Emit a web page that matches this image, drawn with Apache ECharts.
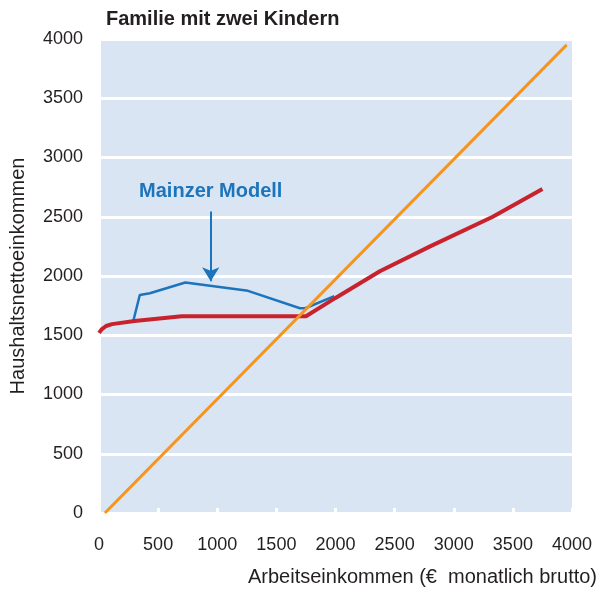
<!DOCTYPE html>
<html>
<head>
<meta charset="utf-8">
<script src="https://cdn.jsdelivr.net/npm/echarts@6/dist/echarts.min.js"></script>
<style>
  html, body { margin: 0; padding: 0; background: #fff; }
  #chart { width: 597px; height: 589px; }
</style>
</head>
<body>
<div id="chart"></div>
<script>
// Nettoeinkommen einer Familie mit zwei Kindern
const xTicks = [0, 500, 1000, 1500, 2000, 2500, 3000, 3500, 4000];
const yTicks = [0, 500, 1000, 1500, 2000, 2500, 3000, 3500, 4000];

// [Arbeitseinkommen, Haushaltsnettoeinkommen]
const heute = [
  [0, 1520], [25, 1552], [60, 1578], [110, 1594], [300, 1620], [700, 1660],
  [1750, 1660], [2000, 1815], [2375, 2040], [2800, 2250], [3330, 2500], [3750, 2735]
];
const mainzerModell = [
  [290, 1620], [345, 1840], [430, 1855], [730, 1945], [1260, 1875],
  [1700, 1728], [1745, 1728], [1990, 1830]
];
const diagonale = [[50, 0], [3955, 3950]];
const pfeil = [[945, 2545], [945, 1955]];

const font = 'Liberation Sans, Arial, sans-serif';
const chart = echarts.init(document.getElementById('chart'));

chart.setOption({
  animation: false,
  title: {
    text: 'Familie mit zwei Kindern',
    left: 101,
    top: 4,
    textStyle: { fontFamily: font, fontSize: 20, fontWeight: 'bold', color: '#231f20' }
  },
  grid: {
    left: 99, right: 25, top: 39, bottom: 76,
    outerBoundsMode: 'none',
    containLabel: false,
    show: true, backgroundColor: '#dae5f3', borderWidth: 0
  },
  xAxis: {
    type: 'value',
    min: xTicks[0], max: xTicks[xTicks.length - 1], interval: 500,
    axisLine: { show: false },
    axisTick: { show: true, inside: true, length: 5, lineStyle: { color: '#fff', width: 3 } },
    splitLine: { show: false },
    axisLabel: { fontFamily: font, fontSize: 18, color: '#231f20', margin: 23, formatter: v => String(v) }
  },
  yAxis: {
    type: 'value',
    min: yTicks[0], max: yTicks[yTicks.length - 1], interval: 500,
    name: 'Haushaltsnettoeinkommen',
    nameLocation: 'middle',
    nameGap: 71,
    nameTextStyle: { fontFamily: font, fontSize: 20, color: '#231f20' },
    axisLine: { show: true, lineStyle: { color: '#fff', width: 3 } },
    axisTick: { show: false },
    splitLine: { show: true, showMinLine: true, showMaxLine: true, lineStyle: { color: '#fff', width: 3 } },
    axisLabel: { fontFamily: font, fontSize: 18, color: '#231f20', margin: 16, formatter: v => String(v) }
  },
  graphic: [{
    type: 'text',
    left: 248,
    top: 567,
    style: {
      text: 'Arbeitseinkommen (€  monatlich brutto)',
      font: '20px ' + font,
      fill: '#231f20'
    }
  }],
  series: [
    {
      name: 'Mainzer Modell',
      type: 'line',
      data: mainzerModell,
      showSymbol: false,
      lineStyle: { color: '#1c75bc', width: 2.5 },
      z: 2,
      markLine: {
        silent: true,
        symbol: ['none', 'arrow'],
        symbolSize: [13, 14],
        lineStyle: { color: '#1c75bc', width: 2, type: 'solid' },
        label: {
          show: true, position: 'start', distance: 10,
          formatter: 'Mainzer Modell',
          fontFamily: font, fontSize: 20, fontWeight: 'bold', color: '#1c75bc'
        },
        data: [[{ coord: pfeil[0] }, { coord: pfeil[1] }]]
      }
    },
    {
      name: 'Heute',
      type: 'line',
      data: heute,
      showSymbol: false,
      lineStyle: { color: '#c8222d', width: 4 },
      z: 3
    },
    {
      name: 'Diagonale',
      type: 'line',
      data: diagonale,
      showSymbol: false,
      lineStyle: { color: '#f7941d', width: 3 },
      z: 4
    }
  ]
});
</script>
</body>
</html>
